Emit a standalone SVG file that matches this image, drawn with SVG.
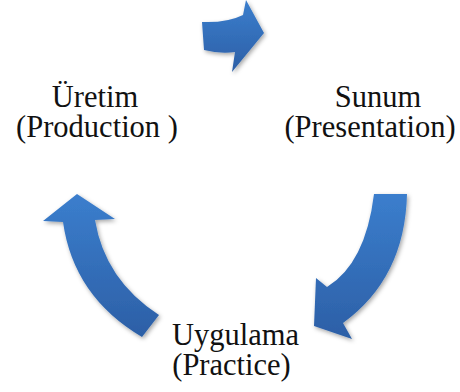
<svg xmlns="http://www.w3.org/2000/svg" width="460" height="392" viewBox="0 0 460 392">
  <style>
    .lbl { font-family: Liberation Serif, DejaVu Serif, serif; font-size: 30.5px; fill: #111111; text-anchor: middle; }
    .arrow { fill: url(#blueGrad); filter: url(#shadow); }
  </style>
  <defs>
    <linearGradient id="blueGrad" x1="0" y1="0" x2="0" y2="1">
      <stop offset="0" stop-color="#3B7ECD"/>
      <stop offset="1" stop-color="#2C5FA6"/>
    </linearGradient>
    <filter id="shadow" x="-20%" y="-20%" width="140%" height="140%">
      <feDropShadow dx="1.5" dy="2" stdDeviation="2" flood-color="#000000" flood-opacity="0.35"/>
    </filter>
  </defs>
  <rect width="460" height="392" fill="#ffffff"/>
  <g id="connectors">
    <path id="arrow-top" class="arrow" d="M202,22 Q227,23 243,15 L246,0 L264,33 L232,72 L235,52 Q220,54 204,50 Z"/>
    <path id="arrow-right" class="arrow" d="M374,194 L407,194 Q405,278 343,323 L352,339 L314,326 L316,278 L327,287 Q365.5,263.5 374,194 Z"/>
    <path id="arrow-left" class="arrow" d="M63,222 L43,221 L77,194 L115,219 L95,220 Q105,280 159,315 L142,337 Q73.5,296.5 63,222 Z"/>
  </g>
  <g id="node-uretim">
    <text class="lbl" x="95" y="107">Üretim</text>
    <text class="lbl" x="97" y="137">(Production )</text>
  </g>
  <g id="node-sunum">
    <text class="lbl" x="378" y="107">Sunum</text>
    <text class="lbl" x="370" y="137">(Presentation)</text>
  </g>
  <g id="node-uygulama">
    <text class="lbl" x="235.5" y="345">Uygulama</text>
    <text class="lbl" x="231.5" y="375">(Practice)</text>
  </g>
</svg>
